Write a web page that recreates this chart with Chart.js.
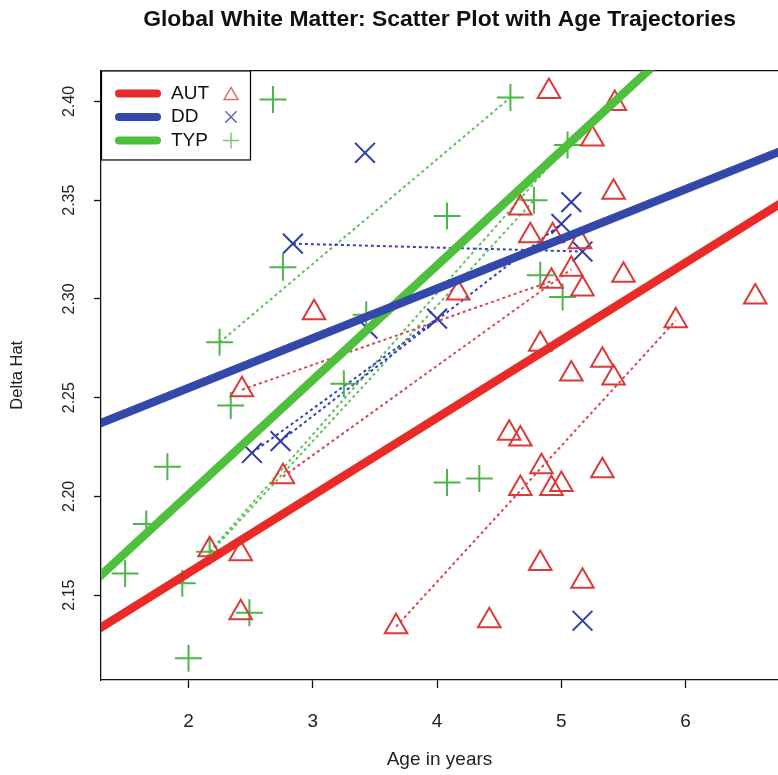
<!DOCTYPE html>
<html><head><meta charset="utf-8">
<script src="https://cdn.jsdelivr.net/npm/chart.js@4/dist/chart.umd.min.js"></script>
<style>html,body{margin:0;padding:0;background:#fff;overflow:hidden}</style>
</head><body>
<canvas id="c" width="778" height="775"></canvas>
<script>
// ---- data ----
const groups = ['AUT', 'DD', 'TYP'];

const autAge   = [4.90,5.43,5.25,5.42,4.67,4.75,4.93,5.15,5.50,5.08,4.92,5.17,4.17,6.56,5.92,3.01,4.83,5.33,5.08,5.42,2.43,4.58,4.67,4.84,5.33,2.76,4.67,4.92,5.00,2.17,2.42,4.83,5.17,2.42,3.67,4.42];
const autDelta = [2.405,2.399,2.381,2.354,2.346,2.332,2.332,2.329,2.312,2.315,2.309,2.305,2.303,2.301,2.289,2.293,2.277,2.269,2.262,2.260,2.254,2.232,2.229,2.215,2.213,2.210,2.204,2.204,2.206,2.173,2.171,2.166,2.157,2.141,2.134,2.137];

const ddAge    = [3.42,2.84,5.08,5.00,5.17,4.00,3.44,2.51,2.74,5.17];
const ddDelta  = [2.374,2.328,2.349,2.338,2.324,2.290,2.285,2.222,2.228,2.137];

const typAge   = [2.68,4.59,5.05,4.78,4.08,2.76,4.83,5.01,3.43,2.25,3.25,2.34,1.83,1.66,1.49,1.95,4.08,4.34,2.49,2.00,2.17];
const typDelta = [2.401,2.402,2.378,2.350,2.342,2.316,2.312,2.301,2.292,2.278,2.257,2.246,2.215,2.186,2.161,2.156,2.207,2.209,2.141,2.118,2.172];

// subject trajectories: index pairs (first visit, second visit)
const autPairs = [[20,10],[25,9],[34,14]];
const ddPairs  = [[1,4],[7,5],[8,3]];
const typPairs = [[9,1],[20,2],[15,3]];

// fitted age trajectories: endpoints
const autFitAge = [1.25, 6.80];  const autFitDelta = [2.1318, 2.3498];
const ddFitAge  = [1.25, 6.80];  const ddFitDelta  = [2.2360, 2.3757];
const typFitAge = [1.25, 5.80];  const typFitDelta = [2.1574, 2.4215];

const xTicks = [2, 3, 4, 5, 6];
const yTicks = [2.15, 2.20, 2.25, 2.30, 2.35, 2.40];
const xRange = [1.296, 6.743];
const yRange = [2.107, 2.4157];

// ---- styles ----
const markColor = ['rgb(218,58,58)', 'rgb(48,62,172)', 'rgb(78,182,72)'];
const lineColor = ['rgb(232,42,40)', 'rgb(52,72,172)', 'rgb(78,192,62)'];
const dotColor  = ['rgb(214,72,82)', 'rgb(52,66,184)', 'rgb(96,192,96)'];
const markStyle = ['triangle', 'crossRot', 'cross'];
const markRadius = [13, 14, 13.5];

const FONT = '"Liberation Sans", Arial, Helvetica, sans-serif';
Chart.defaults.font.family = FONT;

const pts = (xs, ys) => xs.map((x, i) => ({x: x, y: ys[i]}));
const groupAges = [autAge, ddAge, typAge];
const groupDeltas = [autDelta, ddDelta, typDelta];
const groupPairs = [autPairs, ddPairs, typPairs];
const fitAges = [autFitAge, ddFitAge, typFitAge];
const fitDeltas = [autFitDelta, ddFitDelta, typFitDelta];

const datasets = [];
groups.forEach((g, k) => {
  datasets.push({
    type: 'line', label: g + ' fit', data: pts(fitAges[k], fitDeltas[k]),
    borderColor: lineColor[k], borderWidth: 8.5, pointRadius: 0, fill: false,
    order: 0, clip: 0, borderCapStyle: 'butt'
  });
});
groups.forEach((g, k) => {
  groupPairs[k].forEach(p => {
    const a = groupAges[k], d = groupDeltas[k];
    datasets.push({
      type: 'line', label: g + ' traj', data: [{x: a[p[0]], y: d[p[0]]}, {x: a[p[1]], y: d[p[1]]}],
      borderColor: dotColor[k], borderWidth: 2, borderDash: [3, 3], pointRadius: 0, fill: false,
      order: 2, clip: 0
    });
  });
});
groups.forEach((g, k) => {
  datasets.push({
    type: 'scatter', label: g, data: pts(groupAges[k], groupDeltas[k]),
    pointStyle: markStyle[k], pointRadius: markRadius[k], pointBorderWidth: 2,
    pointBorderColor: markColor[k], pointBackgroundColor: 'rgba(0,0,0,0)',
    showLine: false, order: 1
  });
});

const rLegend = {
  id: 'rLegend',
  afterDraw(chart) {
    const {ctx, chartArea: a} = chart;
    const x0 = a.left, y0 = a.top, w = 149, h = 89;
    ctx.save();
    ctx.fillStyle = '#fff';
    ctx.fillRect(x0, y0, w, h);
    ctx.strokeStyle = '#000'; ctx.lineWidth = 1.2;
    ctx.strokeRect(x0 + 0.5, y0 + 0.5, w, h);
    groups.forEach((g, k) => {
      const y = y0 + 23 + k * 23.5;
      ctx.strokeStyle = lineColor[k]; ctx.lineWidth = 8; ctx.lineCap = 'round';
      ctx.beginPath(); ctx.moveTo(x0 + 18, y); ctx.lineTo(x0 + 56, y); ctx.stroke();
      ctx.lineCap = 'butt';
      ctx.fillStyle = '#111'; ctx.font = '19px ' + FONT;
      ctx.textBaseline = 'middle'; ctx.textAlign = 'left';
      ctx.fillText(g, x0 + 70, y);
      ctx.strokeStyle = markColor[k]; ctx.fillStyle = 'rgba(0,0,0,0)'; ctx.lineWidth = 1.5;
      ctx.globalAlpha = 0.75;
      Chart.helpers.drawPoint(ctx, {pointStyle: markStyle[k], radius: 8, rotation: 0, borderWidth: 1.5}, x0 + 130, y + (k === 0 ? 2 : 0));
      ctx.globalAlpha = 1;
    });
    ctx.restore();
  }
};

const noPad = s => { s.paddingLeft = 0; s.paddingRight = 0; s.paddingTop = 0; s.paddingBottom = 0; };

new Chart(document.getElementById('c'), {
  data: {datasets: datasets},
  options: {
    responsive: false, animation: false, devicePixelRatio: 1, events: [],
    layout: {padding: 0, autoPadding: false},
    plugins: {
      legend: {display: false}, tooltip: {enabled: false},
      title: {
        display: true, text: 'Global White Matter: Scatter Plot with Age Trajectories',
        font: {size: 22.9, weight: 'bold'}, color: '#111',
        padding: {top: 5.5, bottom: 37.5}, fullSize: false
      }
    },
    scales: {
      x: {
        type: 'linear', position: 'bottom', min: xRange[0], max: xRange[1],
        afterBuildTicks: s => { s.ticks = xTicks.map(v => ({value: v})); },
        afterFit: s => { s.height = 95; noPad(s); },
        ticks: {font: {size: 19}, color: '#222', padding: 22, callback: v => String(v), maxRotation: 0},
        grid: {display: true, drawOnChartArea: false, drawTicks: true, tickLength: 8, color: '#111', tickWidth: 1.3},
        border: {display: true, color: '#111', width: 1.3},
        title: {display: true, text: 'Age in years', font: {size: 19}, color: '#222', padding: {top: 0, bottom: 3.6}}
      },
      x2: {
        type: 'linear', position: 'top', min: xRange[0], max: xRange[1],
        afterFit: s => { s.height = 0; noPad(s); },
        ticks: {display: false}, grid: {display: false, drawTicks: false},
        border: {display: true, color: '#111', width: 1.3}
      },
      y: {
        type: 'linear', position: 'left', min: yRange[0], max: yRange[1],
        afterBuildTicks: s => { s.ticks = yTicks.map(v => ({value: v})); },
        afterFit: s => { s.width = 101; noPad(s); },
        ticks: {font: {size: 16}, color: '#222', padding: 8.5, minRotation: 90, maxRotation: 90, crossAlign: 'center',
                callback: v => Number(v).toFixed(2)},
        grid: {display: true, drawOnChartArea: false, drawTicks: true, tickLength: 7, color: '#111', tickWidth: 1.3},
        border: {display: true, color: '#111', width: 1.3},
        title: {display: true, text: 'Delta Hat', font: {size: 16.5}, color: '#222', padding: {top: 8, bottom: 0}}
      }
    }
  },
  plugins: [rLegend]
});
</script>
</body></html>
